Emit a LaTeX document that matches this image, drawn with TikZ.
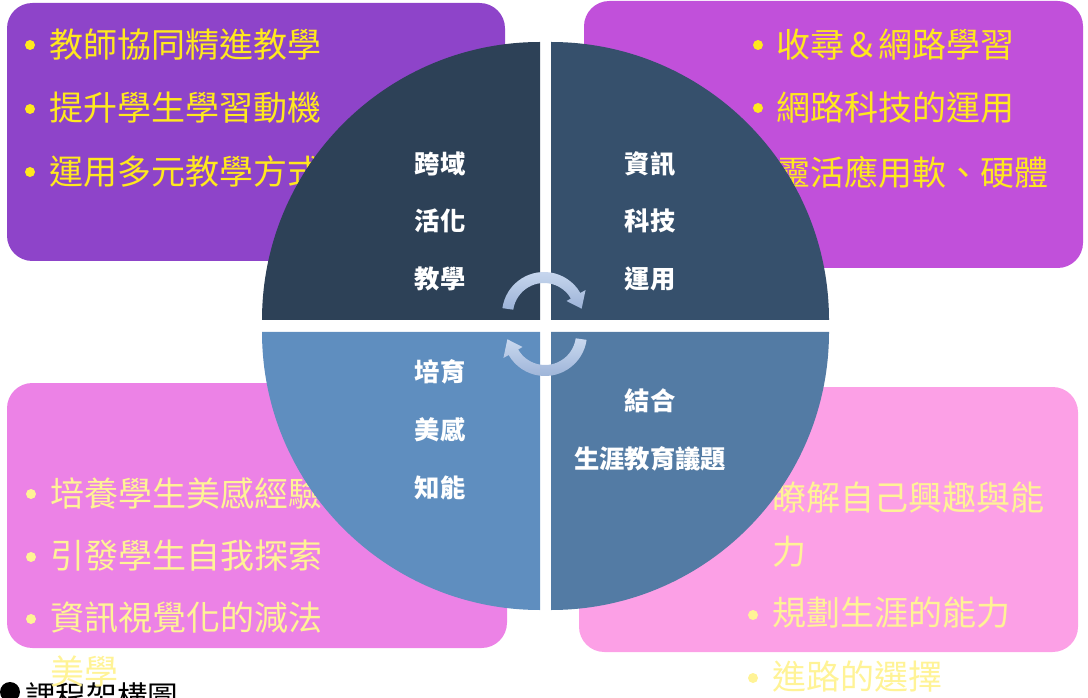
\documentclass[tikz,border=0pt]{standalone}
\usepackage{fontspec}
\newfontfamily\cjk{Noto Sans CJK TC}
\definecolor{boxTL}{RGB}{142,68,201}
\definecolor{boxTR}{RGB}{193,80,218}
\definecolor{boxBL}{RGB}{236,130,230}
\definecolor{boxBR}{RGB}{252,160,230}
\definecolor{quadTL}{RGB}{45,65,87}
\definecolor{quadTR}{RGB}{54,80,108}
\definecolor{quadBL}{RGB}{95,142,191}
\definecolor{quadBR}{RGB}{83,123,164}
\definecolor{textY}{RGB}{255,232,30}
\definecolor{textPale}{RGB}{255,243,150}
\definecolor{arrowLight}{RGB}{202,217,239}
\definecolor{arrowDark}{RGB}{155,178,215}

\begin{document}
\begin{tikzpicture}[x=0.75pt,y=0.75pt,yscale=-1,xscale=1,
  itemtext/.style={anchor=west,inner sep=0pt,font=\cjk\fontsize{25.5}{30}\selectfont},
  quadtext/.style={text=white,inner sep=0pt,font=\cjk\bfseries\fontsize{19}{23}\selectfont},
  roundbox/.style={rounded corners=19pt}]
\useasboundingbox (0,0) rectangle (1088,698);

%Shape: Rounded Rect [id:boxTL] 
\fill [boxTL,roundbox] (7,3) rectangle (505,261) ;
%Shape: Rounded Rect [id:boxTR] 
\fill [boxTR,roundbox] (584,1) rectangle (1083,268) ;
%Shape: Rounded Rect [id:boxBL] 
\fill [boxBL,roundbox] (7,383) rectangle (507,648) ;
%Shape: Rounded Rect [id:boxBR] 
\fill [boxBR,roundbox] (579,387) rectangle (1078,652) ;

%Caption
\fill [black] (10,692) circle (10) ;
\node [anchor=west,inner sep=0pt,font=\cjk\fontsize{23}{28}\selectfont] (caption) at (25,697) {課程架構圖};

% Bullets
\fill [textY] (30,45) circle (5) ;
\fill [textY] (30,109) circle (5) ;
\fill [textY] (30,172) circle (5) ;
\fill [textY] (758,45) circle (5) ;
\fill [textY] (758,108) circle (5) ;
\fill [textY] (758,172) circle (5) ;
\fill [textPale] (31,494) circle (5) ;
\fill [textPale] (31,557) circle (5) ;
\fill [textPale] (31,619) circle (5) ;
\fill [textPale] (753,499) circle (5) ;
\fill [textPale] (753,615) circle (5) ;
\fill [textPale] (753,678) circle (5) ;

% Text Node
\node [itemtext,text=textY] (tl1) at (49,45) {教師協同精進教學};
\node [itemtext,text=textY] (tl2) at (49,108) {提升學生學習動機};
\node [itemtext,text=textY] (tl3) at (49,172) {運用多元教學方式};
% Text Node
\node [itemtext,text=textY] (tr1) at (776,45) {收尋＆網路學習};
\node [itemtext,text=textY] (tr2) at (776,108) {網路科技的運用};
\node [itemtext,text=textY] (tr3) at (776,172) {靈活應用軟、硬體};
% Text Node
\node [itemtext,text=textPale] (bl1) at (50,493) {培養學生美感經驗};
\node [itemtext,text=textPale] (bl2) at (50,556) {引發學生自我探索};
\node [itemtext,text=textPale] (bl3) at (50,618) {資訊視覺化的減法};
\node [itemtext,text=textPale] (bl4) at (50,672) {美學};
% Text Node
\node [itemtext,text=textPale] (br1) at (772,498) {瞭解自己興趣與能};
\node [itemtext,text=textPale] (br2) at (772,552) {力};
\node [itemtext,text=textPale] (br3) at (772,613) {規劃生涯的能力};
\node [itemtext,text=textPale] (br4) at (772,677) {進路的選擇};

%Shape: Quarter Circle [id:quadTL] 
\fill [quadTL] (540,320) -- (262,320) arc [start angle=180, end angle=270, radius=278] -- cycle ;
%Shape: Quarter Circle [id:quadTR] 
\fill [quadTR] (551,320) -- (551,42) arc [start angle=270, end angle=360, radius=278] -- cycle ;
%Shape: Quarter Circle [id:quadBR] 
\fill [quadBR] (551,332) -- (829,332) arc [start angle=0, end angle=90, radius=278] -- cycle ;
%Shape: Quarter Circle [id:quadBL] 
\fill [quadBL] (540,332) -- (540,610) arc [start angle=90, end angle=180, radius=278] -- cycle ;

% Text Node
\node [quadtext] (crossA) at (440,164) {跨域};
\node [quadtext] (crossB) at (440,221) {活化};
\node [quadtext] (crossC) at (440,279) {教學};
\node [quadtext] (infoA) at (650,164) {資訊};
\node [quadtext] (infoB) at (650,221) {科技};
\node [quadtext] (infoC) at (650,279) {運用};
\node [quadtext] (artA) at (440,372) {培育};
\node [quadtext] (artB) at (440,430) {美感};
\node [quadtext] (artC) at (440,488) {知能};
\node [quadtext] (careerA) at (650,401) {結合};
\node [quadtext] (careerB) at (650,459) {生涯教育議題};

%Shape: Curved Arrow [id:arrowTop] 
\begin{scope}[shift={(544,314)}]
\shade [top color=arrowLight, bottom color=arrowDark] (188:42) arc [start angle=188, end angle=330, radius=42] -- (330:48) -- (352:38) -- (330:26) -- (330:31) arc [start angle=330, end angle=188, radius=31] -- cycle ;
\end{scope}
%Shape: Curved Arrow [id:arrowBottom] 
\begin{scope}[shift={(545,334)}]
\shade [top color=arrowLight, bottom color=arrowDark] (8:42) arc [start angle=8, end angle=150, radius=42] -- (150:48) -- (172:38) -- (150:26) -- (150:31) arc [start angle=150, end angle=8, radius=31] -- cycle ;
\end{scope}
\end{tikzpicture}
\end{document}
